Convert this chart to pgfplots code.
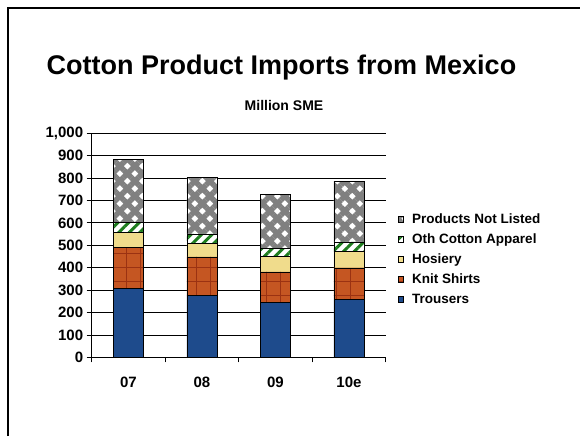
\documentclass[border=0pt]{standalone}
\usepackage{pgfplots}
\pgfplotsset{compat=1.18}
\usepackage{fontspec}
\setmainfont{Liberation Sans}
\usetikzlibrary{patterns.meta}
\definecolor{trous}{RGB}{30,75,140}
\definecolor{knit}{RGB}{197,86,34}
\definecolor{knitline}{RGB}{155,50,18}
\definecolor{hos}{RGB}{240,220,140}
\definecolor{othg}{RGB}{30,125,30}
\definecolor{npl}{RGB}{128,128,128}
\begin{document}
\begin{tikzpicture}[x=1pt,y=1pt]
\useasboundingbox (0,0) rectangle (580,436);
\draw[line width=2pt] (7.7,0) -- (7.7,428.3) -- (580,428.3);
\node[anchor=base,font=\fontsize{27}{32}\selectfont\bfseries] at (281.5,361) {Cotton Product Imports from Mexico};
\begin{axis}[
  at={(91.7pt,78.7pt)}, anchor=south west,
  scale only axis, width=294pt, height=224pt,
  ybar stacked, bar width=30pt,
  xmin=-0.5, xmax=3.5, ymin=0, ymax=1000,
  axis x line*=bottom, axis y line*=left,
  axis line style={black, line width=0.8pt},
  ytick={0,100,...,1000},
  ymajorgrids, grid style={black, line width=0.8pt},
  xtick={-0.5,0.5,1.5,2.5,3.5}, xticklabels={},
  extra x ticks={0,1,2,3}, extra x tick labels={07,08,09,10e},
  extra x tick style={major tick length=0pt, grid=none, xticklabel style={anchor=base, yshift=-30pt}},
  tick align=outside, major tick length=5pt,
  tick style={black, line width=0.8pt},
  tick label style={font=\fontsize{15}{18}\selectfont\bfseries},
  yticklabel style={/pgf/number format/1000 sep={,}, /pgf/number format/assume math mode=true},
  title={Million SME},
  title style={at={(0.654,1)}, anchor=base, yshift=16.6pt, font=\fontsize{14}{17}\selectfont\bfseries},
  reverse legend,
  legend cell align=left,
  legend style={draw=none, fill=none, at={(1.03,0.658)}, anchor=north west,
    font=\fontsize{13.5}{16}\selectfont\bfseries,
    nodes={inner sep=1pt, text height=10pt, text depth=2pt}, row sep=6pt,
    /tikz/every odd column/.append style={column sep=7pt}},
  legend image code/.code={\draw[#1, line width=0.6pt] (0pt,-2.8pt) rectangle (5.7pt,2.8pt);},
]
\addplot+[draw=black, line width=0.7pt, fill=trous] coordinates {(0,308) (1,277) (2,244) (3,259)};
\addplot+[draw=black, line width=0.7pt, preaction={fill=knit}, pattern={Hatch[angle=0,distance=14pt,line width=1pt]}, pattern color=knitline] coordinates {(0,184) (1,171) (2,137) (3,140)};
\addplot+[draw=black, line width=0.7pt, fill=hos] coordinates {(0,66) (1,59) (2,70) (3,72)};
\addplot+[draw=black, line width=0.7pt, preaction={fill=white}, pattern={Lines[angle=45,distance=7.5pt,line width=3pt]}, pattern color=othg] coordinates {(0,43) (1,44) (2,36) (3,44)};
\addplot+[draw=black, line width=0.7pt, preaction={fill=white}, pattern={Hatch[angle=45,distance=10.6pt,line width=5.5pt]}, pattern color=npl] coordinates {(0,283) (1,251) (2,241) (3,271)};
\legend{Trousers,Knit Shirts,Hosiery,Oth Cotton Apparel,Products Not Listed}
\end{axis}
\end{tikzpicture}
\end{document}
